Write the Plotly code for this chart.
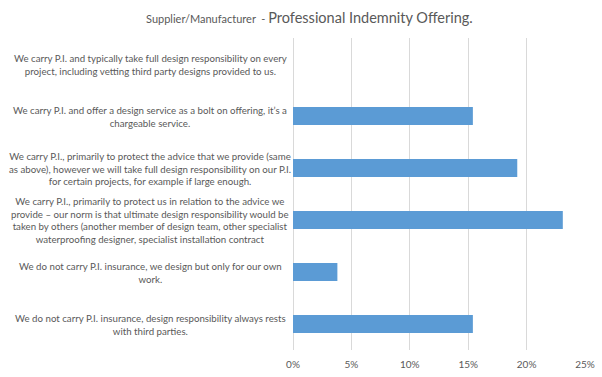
import plotly.graph_objects as go

categories = [
    "We carry P.I. and typically take full design responsibility on every<br>project, including vetting third party designs provided to us.",
    "We carry P.I. and offer a design service as a bolt on offering, it’s a<br>chargeable service.",
    "We carry P.I., primarily to protect the advice that we provide (same<br>as above), however we will take full design responsibility on our P.I.<br>for certain projects, for example if large enough.",
    "We carry P.I., primarily to protect us in relation to the advice we<br>provide – our norm is that ultimate design responsibility would be<br>taken by others (another member of design team, other specialist<br>waterproofing designer, specialist installation contract",
    "We do not carry P.I. insurance, we design but only for our own<br>work.",
    "We do not carry P.I. insurance, design responsibility always rests<br>with third parties.",
]
values = [0.0, 0.154, 0.192, 0.231, 0.038, 0.154]
tick_vals = [0, 0.05, 0.10, 0.15, 0.20, 0.25]
tick_text = ["0%", "5%", "10%", "15%", "20%", "25%"]

ids = list(range(len(categories)))

fig = go.Figure(go.Bar(
    x=values, y=ids, orientation="h",
    width=0.35,
    marker=dict(color="#5B9BD5", line=dict(width=0)),
    hoverinfo="skip",
))

grey = "#595959"
font_family = "Lato, Open Sans, sans-serif"

annotations = []
for i, c in zip(ids, categories):
    annotations.append(dict(
        x=-0.4897, xref="paper", y=i, yref="y",
        text=c, showarrow=False, align="center",
        xanchor="center", yanchor="middle",
        font=dict(family=font_family, size=9.7, color=grey),
    ))

fig.update_layout(
    width=602, height=377,
    margin=dict(l=293, r=17, t=38, b=27, autoexpand=False),
    paper_bgcolor="white", plot_bgcolor="white",
    showlegend=False,
    title=dict(
        text="<span style='font-size:11px'>Supplier/Manufacturer  - </span><span style='font-size:14.5px'>Professional Indemnity Offering.</span>",
        x=0.514, xanchor="center", y=0.955, yanchor="middle",
        font=dict(family=font_family, color=grey),
    ),
    annotations=annotations,
    xaxis=dict(
        range=[0, 0.25], tickvals=tick_vals, ticktext=tick_text,
        showgrid=True, gridcolor="#D9D9D9", gridwidth=1,
        zeroline=True, zerolinecolor="#D9D9D9", zerolinewidth=1,
        showline=False, ticks="", automargin=False, ticklabelstandoff=7,
        tickfont=dict(family=font_family, size=10, color=grey),
        fixedrange=True,
    ),
    yaxis=dict(
        range=[5.5, -0.5], showticklabels=False, showgrid=False,
        zeroline=False, showline=False, ticks="", automargin=False,
        fixedrange=True,
    ),
)

fig.write_html(
    "out.html",
    config={"displayModeBar": False},
    post_script="document.body.style.margin='0';document.body.style.overflow='hidden';",
)
